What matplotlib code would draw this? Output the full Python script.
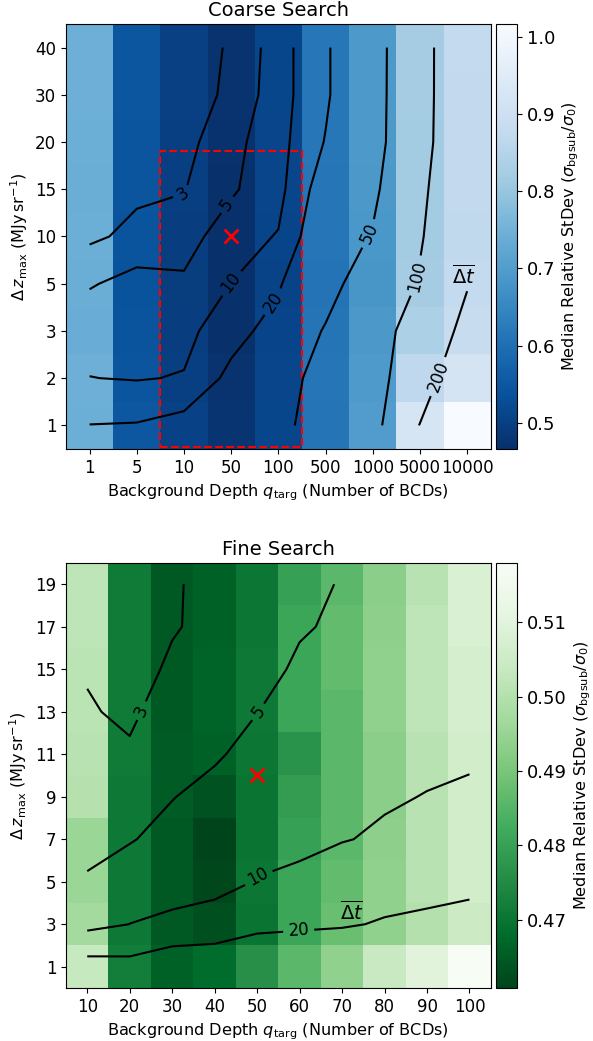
import matplotlib
matplotlib.use("Agg")
import matplotlib.pyplot as plt
import numpy as np
from matplotlib.patches import Rectangle

# ---------------- Coarse search data ----------------
coarse_q = [1, 5, 10, 50, 100, 500, 1000, 5000, 10000]
coarse_dz = [1, 2, 3, 5, 10, 15, 20, 30, 40]
# median relative stdev, rows = dz, cols = q
coarse_sigma = [
    [0.742, 0.548, 0.503, 0.478, 0.515, 0.612, 0.700, 0.925, 1.017],
    [0.745, 0.545, 0.500, 0.474, 0.512, 0.615, 0.692, 0.870, 0.920],
    [0.738, 0.542, 0.497, 0.470, 0.510, 0.612, 0.688, 0.835, 0.885],
    [0.740, 0.540, 0.495, 0.468, 0.508, 0.610, 0.685, 0.823, 0.875],
    [0.742, 0.543, 0.498, 0.466, 0.510, 0.613, 0.687, 0.820, 0.872],
    [0.741, 0.544, 0.499, 0.470, 0.512, 0.615, 0.688, 0.820, 0.873],
    [0.743, 0.545, 0.500, 0.472, 0.513, 0.617, 0.690, 0.821, 0.874],
    [0.744, 0.546, 0.501, 0.473, 0.514, 0.618, 0.690, 0.822, 0.874],
    [0.745, 0.546, 0.501, 0.474, 0.515, 0.618, 0.690, 0.822, 0.875],
]
# mean runtime, rows = dz, cols = q
coarse_time = [
    [20.2, 20.67, 24.05, 30.0, 40.0, 68.6, 74.4, 202.6, 300.0],
    [10.15, 9.44, 10.56, 23.0, 35.0, 63.8, 75.0, 146.0, 288.0],
    [6.5, 7.0, 7.27, 15.8, 24.7, 52.5, 52.0, 150.0, 219.0],
    [4.8, 5.79, 5.45, 10.09, 18.5, 37.25, 70.8, 102.9, 196.4],
    [2.63, 3.51, 3.8, 6.59, 10.51, 30.7, 52.1, 97.0, 134.5],
    [2.4, 2.64, 2.92, 4.57, 7.12, 26.35, 43.0, 89.7, 147.0],
    [2.2, 2.4, 2.44, 4.18, 6.67, 20.56, 35.0, 88.6, 129.0],
    [2.0, 1.9, 1.8, 3.5, 6.1, 18.3, 35.0, 86.0, 133.0],
    [1.6, 1.9, 2.27, 3.16, 6.08, 18.3, 35.0, 85.0, 135.0],
]
coarse_levels = [3, 5, 10, 20, 50, 100, 200]

# ---------------- Fine search data ----------------
fine_q = [10, 20, 30, 40, 50, 60, 70, 80, 90, 100]
fine_dz = [1, 3, 5, 7, 9, 11, 13, 15, 17, 19]
fine_sigma = [
    [0.5037, 0.472, 0.466, 0.468, 0.476, 0.486, 0.494, 0.504, 0.510, 0.518],
    [0.497, 0.471, 0.4645, 0.463, 0.470, 0.481, 0.488, 0.494, 0.500, 0.505],
    [0.4955, 0.471, 0.4645, 0.4615, 0.4705, 0.481, 0.487, 0.494, 0.501, 0.506],
    [0.4955, 0.471, 0.4645, 0.4608, 0.470, 0.480, 0.486, 0.4935, 0.501, 0.506],
    [0.5005, 0.471, 0.465, 0.4635, 0.470, 0.479, 0.486, 0.493, 0.501, 0.506],
    [0.501, 0.4715, 0.465, 0.466, 0.4705, 0.477, 0.486, 0.493, 0.501, 0.506],
    [0.5015, 0.4715, 0.4645, 0.4665, 0.471, 0.481, 0.486, 0.494, 0.502, 0.507],
    [0.5015, 0.4715, 0.4645, 0.4665, 0.471, 0.481, 0.487, 0.494, 0.502, 0.507],
    [0.502, 0.4715, 0.4645, 0.466, 0.4705, 0.481, 0.487, 0.4935, 0.502, 0.508],
    [0.502, 0.4715, 0.4645, 0.466, 0.4705, 0.480, 0.486, 0.493, 0.501, 0.508],
]
fine_time = [
    [24.05, 23.2, 27.4, 28.2, 34.2, 37.0, 30.8, 28.0, 30.0, 32.0],
    [7.52, 10.05, 12.0, 13.0, 16.0, 17.0, 19.0, 20.85, 23.0, 25.0],
    [5.4, 6.7, 6.2, 7.83, 10.3, 13.0, 16.0, 15.7, 14.9, 16.4],
    [3.8, 4.79, 6.03, 6.8, 7.7, 6.8, 9.51, 11.3, 12.0, 13.0],
    [3.6, 4.0, 4.89, 5.99, 7.0, 6.5, 8.0, 9.04, 10.29, 11.0],
    [3.4, 3.3, 4.5, 4.62, 6.03, 6.3, 7.5, 8.5, 8.14, 9.11],
    [3.2, 2.6, 4.08, 4.2, 4.95, 6.2, 7.0, 8.0, 7.8, 8.8],
    [2.83, 2.3, 3.27, 3.8, 3.66, 5.6, 6.5, 7.5, 7.5, 8.5],
    [2.6, 2.2, 2.87, 3.43, 3.5, 4.655, 5.56, 7.0, 7.2, 8.2],
    [2.4, 2.1, 2.8, 3.54, 3.4, 4.3, 5.16, 6.5, 7.0, 8.0],
]
fine_levels = [3, 5, 10, 20]

best_q, best_dz = 50, 10

xlabel = r'Background Depth $q_{\rm targ}$ (Number of BCDs)'
ylabel = r'$\Delta\,z_{\rm max}$ (MJy$\,$sr$^{-1}$)'
cblabel = r'Median Relative StDev ($\sigma_{\rm bgsub}/\sigma_0$)'
tlabel = r'$\overline{\Delta t}$'

TICK = 12
LAB = 11.6
TITLE = 14
CLAB = 12
TLAB = 14

fig = plt.figure(figsize=(5.93, 10.41), dpi=100)
ax1 = fig.add_axes([0.1113, 0.5687, 0.7162, 0.4083])
cax1 = fig.add_axes([0.8364, 0.5687, 0.0354, 0.4083])
ax2 = fig.add_axes([0.1113, 0.0509, 0.7162, 0.4083])
cax2 = fig.add_axes([0.8364, 0.0509, 0.0354, 0.4083])

# ---- Coarse ----
cs_arr = np.array(coarse_sigma)
nq, nz = len(coarse_q), len(coarse_dz)
im1 = ax1.imshow(cs_arr, origin='lower', cmap='Blues_r', aspect='auto',
                 extent=(-0.5, nq - 0.5, -0.5, nz - 0.5))
cs1 = ax1.contour(np.arange(nq), np.arange(nz), np.array(coarse_time),
                  levels=coarse_levels, colors='k', linewidths=1.5)
ax1.clabel(cs1, fmt='%d', fontsize=CLAB, inline=True,
           manual=[(1.97, 4.93), (2.85, 4.72), (2.98, 3.03), (3.97, 2.56),
                   (5.94, 4.05), (6.96, 3.16), (7.36, 1.04)])
ax1.text(7.92, 3.16, tlabel, fontsize=TLAB, ha='center', va='center')
ax1.add_patch(Rectangle((1.5, -0.45), 3.0, 6.25, fill=False, ec='red',
                        ls='--', lw=1.5))
ax1.plot([coarse_q.index(best_q)], [coarse_dz.index(best_dz)], 'x', color='red',
         ms=10, mew=2)
ax1.set_xticks(np.arange(nq))
ax1.set_xticklabels([str(v) for v in coarse_q])
ax1.set_yticks(np.arange(nz))
ax1.set_yticklabels([str(v) for v in coarse_dz])
ax1.tick_params(labelsize=TICK)
ax1.set_xlim(-0.5, nq - 0.5)
ax1.set_ylim(-0.5, nz - 0.5)
ax1.set_title('Coarse Search', fontsize=TITLE)
ax1.set_xlabel(xlabel, fontsize=LAB)
ax1.set_ylabel(ylabel, fontsize=LAB)
cb1 = fig.colorbar(im1, cax=cax1)
cb1.set_ticks([0.5, 0.6, 0.7, 0.8, 0.9, 1.0])
cb1.ax.tick_params(labelsize=13)
cb1.set_label(cblabel, fontsize=LAB)

# ---- Fine ----
fs_arr = np.array(fine_sigma)
im2 = ax2.imshow(fs_arr, origin='lower', cmap='Greens_r', aspect='auto',
                 extent=(5, 105, 0, 20))
cs2 = ax2.contour(fine_q, fine_dz, np.array(fine_time), levels=fine_levels,
                  colors='k', linewidths=1.5)
ax2.clabel(cs2, fmt='%d', fontsize=CLAB, inline=True,
           manual=[(22.9, 13.04), (50.0, 13.04), (50.0, 5.34), (59.8, 2.67)])
ax2.text(72.4, 3.6, tlabel, fontsize=TLAB, ha='center', va='center')
ax2.plot([best_q], [best_dz], 'x', color='red', ms=10, mew=2)
ax2.set_xticks(fine_q)
ax2.set_yticks(fine_dz)
ax2.tick_params(labelsize=TICK)
ax2.set_xlim(5, 105)
ax2.set_ylim(0, 20)
ax2.set_title('Fine Search', fontsize=TITLE)
ax2.set_xlabel(xlabel, fontsize=LAB)
ax2.set_ylabel(ylabel, fontsize=LAB)
cb2 = fig.colorbar(im2, cax=cax2)
cb2.set_ticks([0.47, 0.48, 0.49, 0.50, 0.51])
cb2.ax.tick_params(labelsize=13)
cb2.set_label(cblabel, fontsize=LAB)

fig.savefig('out.png', dpi=100)
